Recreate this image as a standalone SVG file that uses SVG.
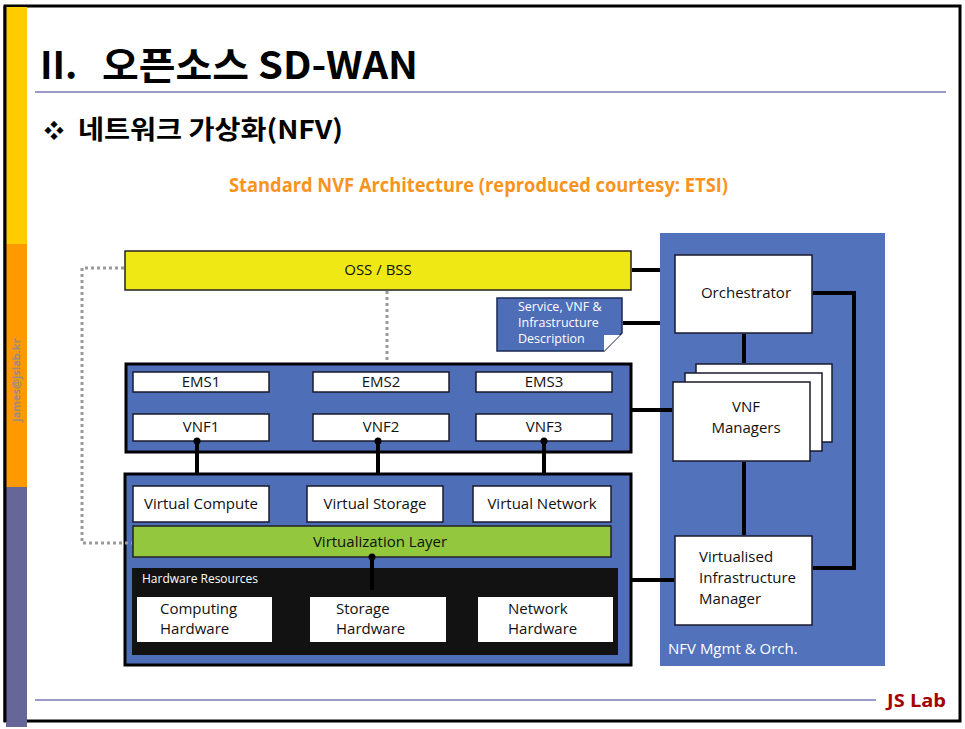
<svg xmlns="http://www.w3.org/2000/svg" width="965" height="729" viewBox="0 0 965 729">
<style>
.w{fill:#fff;stroke:#1a1a2e;stroke-width:1.5}
.blk{fill:#4e6eb8;stroke:#000;stroke-width:3}
.t{font-family:"Open Sans","Noto Sans",sans-serif;font-size:15px;fill:#111;text-anchor:middle}
.tl{font-family:"Open Sans","Noto Sans",sans-serif;font-size:15px;fill:#111}
.wt{font-family:"Open Sans","Noto Sans",sans-serif;fill:#fff}
.ln{stroke:#000;stroke-width:4;fill:none}
.dot{stroke:#9a9a9a;stroke-width:3;stroke-dasharray:3 3;fill:none}
.kr{font-family:"Noto Sans CJK KR","Noto Sans",sans-serif;font-weight:bold;fill:#000}
</style>
<rect width="965" height="729" fill="#fff"/>
<!-- slide frame -->
<rect x="5" y="6" width="955" height="715" fill="none" stroke="#000" stroke-width="3"/>
<rect x="6" y="7" width="21" height="237" fill="#ffcc00"/>
<rect x="6" y="244" width="21" height="243" fill="#ff9900"/>
<rect x="6" y="487" width="21" height="240" fill="#666699"/>
<line x1="5" y1="6" x2="5" y2="722" stroke="#000" stroke-width="3"/>
<text transform="translate(20,380) rotate(-90)" font-family="Open Sans,Noto Sans,sans-serif" font-size="11" font-weight="bold" fill="#a08c7a" text-anchor="middle">james@jslab.kr</text>
<!-- title -->
<text class="kr" x="40" y="79" font-size="38">II.</text>
<text class="kr" x="102" y="79" font-size="38" textLength="316" lengthAdjust="spacingAndGlyphs">오픈소스 SD-WAN</text>
<line x1="35" y1="92" x2="946" y2="92" stroke="#9999cc" stroke-width="2"/>
<text class="kr" x="44" y="138" font-size="20">❖</text>
<text class="kr" x="78" y="139" font-size="26" textLength="265" lengthAdjust="spacingAndGlyphs">네트워크 가상화(NFV)</text>
<text x="229" y="192" font-family="Open Sans,Noto Sans,sans-serif" font-weight="bold" font-size="19" fill="#f7941d" textLength="499" lengthAdjust="spacingAndGlyphs">Standard NVF Architecture (reproduced courtesy: ETSI)</text>
<!-- footer -->
<line x1="35" y1="700" x2="876" y2="700" stroke="#9999cc" stroke-width="2"/>
<text x="946" y="707" font-family="Open Sans,Noto Sans,sans-serif" font-weight="bold" font-size="17" fill="#a50000" text-anchor="end" textLength="59" lengthAdjust="spacingAndGlyphs">JS Lab</text>

<!-- MANO panel -->
<g id="mano">
<rect x="660" y="233" width="225" height="433" fill="#5272bb"/>
<text class="wt" x="668" y="654" font-size="15">NFV Mgmt &amp; Orch.</text>
</g>

<g id="oss">
<rect x="125" y="251" width="506" height="39" fill="#efe815" stroke="#222" stroke-width="1.5"/>
<text class="t" x="378" y="275">OSS / BSS</text>
</g>

<g id="desc">
<path d="M497,298 H622 V333 L604,351 H497 Z" fill="#4e6eb8" stroke="#1a2a55" stroke-width="1.5"/>
<path d="M604,351 L604,335 L620,335 Z" fill="#fff"/>
<text class="wt" font-size="12.5"><tspan x="518" y="311">Service, VNF &amp;</tspan><tspan x="518" y="327">Infrastructure</tspan><tspan x="518" y="343">Description</tspan></text>
</g>

<g id="vnf-layer">
<rect class="blk" x="126" y="364" width="505" height="88"/>
</g>
<g id="ems1"><rect class="w" x="133" y="372" width="136" height="20"/><text class="t" x="201" y="387">EMS1</text></g>
<g id="ems2"><rect class="w" x="313" y="372" width="136" height="20"/><text class="t" x="381" y="387">EMS2</text></g>
<g id="ems3"><rect class="w" x="476" y="372" width="136" height="20"/><text class="t" x="544" y="387">EMS3</text></g>
<g id="vnf1"><rect class="w" x="133" y="414" width="136" height="27"/><text class="t" x="201" y="432">VNF1</text></g>
<g id="vnf2"><rect class="w" x="313" y="414" width="136" height="27"/><text class="t" x="381" y="432">VNF2</text></g>
<g id="vnf3"><rect class="w" x="476" y="414" width="136" height="27"/><text class="t" x="544" y="432">VNF3</text></g>

<g id="nfvi">
<rect class="blk" x="125" y="474" width="506" height="191"/>
</g>
<g id="vcompute"><rect class="w" x="133" y="486" width="136" height="36"/><text class="t" x="201" y="509">Virtual Compute</text></g>
<g id="vstorage"><rect class="w" x="307" y="486" width="136" height="36"/><text class="t" x="375" y="509">Virtual Storage</text></g>
<g id="vnetwork"><rect class="w" x="473" y="486" width="138" height="36"/><text class="t" x="542" y="509">Virtual Network</text></g>
<g id="virt-layer"><rect x="133" y="526" width="478" height="31" fill="#92c73e" stroke="#222" stroke-width="1.5"/><text class="t" x="380" y="547">Virtualization Layer</text></g>
<g id="hw">
<rect x="132" y="568" width="486" height="87" fill="#121212"/>
<text class="wt" x="142" y="583" font-size="12">Hardware Resources</text>
</g>
<g id="comp-hw"><rect x="137" y="597" width="135" height="45" fill="#fff"/><text class="tl"><tspan x="160" y="614">Computing</tspan><tspan x="160" y="634">Hardware</tspan></text></g>
<g id="stor-hw"><rect x="310" y="597" width="136" height="45" fill="#fff"/><text class="tl"><tspan x="336" y="614">Storage</tspan><tspan x="336" y="634">Hardware</tspan></text></g>
<g id="net-hw"><rect x="478" y="597" width="135" height="45" fill="#fff"/><text class="tl"><tspan x="508" y="614">Network</tspan><tspan x="508" y="634">Hardware</tspan></text></g>

<g id="orchestrator"><rect class="w" x="675" y="255" width="137" height="78"/><text class="t" x="746" y="298">Orchestrator</text></g>
<g id="vnfm">
<rect class="w" x="696" y="364" width="136" height="78"/>
<rect class="w" x="685" y="373" width="137" height="78"/>
<rect class="w" x="673" y="382" width="137" height="79"/>
<text class="t"><tspan x="746" y="412">VNF</tspan><tspan x="746" y="433">Managers</tspan></text>
</g>
<g id="vim"><rect class="w" x="675" y="536" width="137" height="89"/><text class="tl"><tspan x="699" y="562">Virtualised</tspan><tspan x="699" y="583">Infrastructure</tspan><tspan x="699" y="604">Manager</tspan></text></g>

<!-- connectors -->
<g id="connectors">
<polyline class="dot" points="124,268 82,268 82,543 132,543"/>
<line class="dot" x1="387" y1="291" x2="387" y2="363"/>
<line class="ln" x1="632" y1="270" x2="660" y2="270"/>
<line class="ln" x1="623" y1="323" x2="660" y2="323"/>
<line class="ln" x1="632" y1="410" x2="672" y2="410"/>
<line class="ln" x1="632" y1="580" x2="674" y2="580"/>
<line class="ln" x1="744" y1="334" x2="744" y2="363"/>
<line class="ln" x1="744" y1="462" x2="744" y2="535"/>
<polyline class="ln" points="813,293 854,293 854,568 813,568"/>
<line class="ln" x1="197" y1="441" x2="197" y2="473"/>
<line class="ln" x1="378" y1="441" x2="378" y2="473"/>
<line class="ln" x1="544" y1="441" x2="544" y2="473"/>
<circle cx="197" cy="441" r="3.5"/>
<circle cx="378" cy="441" r="3.5"/>
<circle cx="544" cy="441" r="3.5"/>
<line class="ln" x1="372" y1="557" x2="372" y2="590"/>
<circle cx="372" cy="557" r="3.5"/>
</g>
</svg>
